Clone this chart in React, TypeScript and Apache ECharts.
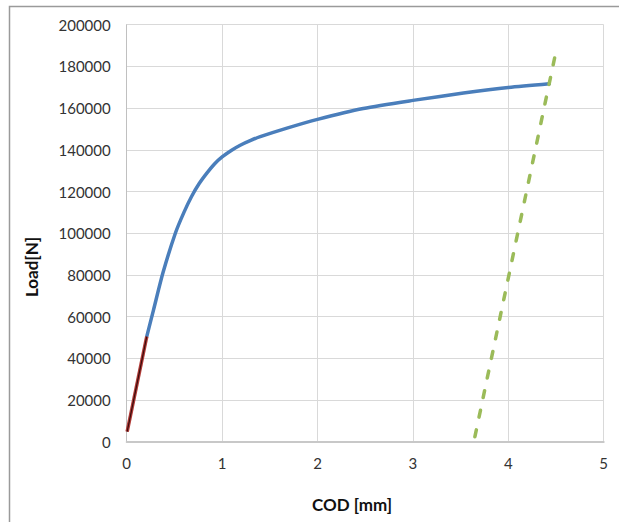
import React, { useEffect, useRef } from "react";
import * as echarts from "echarts";

const xTicks = [0, 1, 2, 3, 4, 5];
const yTicks = [0, 20000, 40000, 60000, 80000, 100000, 120000, 140000, 160000, 180000, 200000];

const blueCurve: [number, number][] = [
  [0.21, 50400], [0.28, 63000], [0.38, 81000], [0.51, 100000], [0.6, 110000], [0.68, 117600],
  [0.76, 123800], [0.84, 128800], [0.92, 133200], [1.0, 136600], [1.1, 139800], [1.19, 142200],
  [1.3, 144500], [1.4, 146300], [1.68, 150400], [2.0, 154600], [2.48, 159800], [3.0, 163700],
  [3.53, 167200], [4.0, 169900], [4.43, 171700],
];
const redLine: [number, number][] = [[0.005, 4800], [0.21, 50400]];
const greenLine: [number, number][] = [[3.65, 2400], [4.5, 187200]];

const FONT = "Lato, 'Open Sans', sans-serif";

export default function App() {
  const ref = useRef<HTMLDivElement>(null);
  useEffect(() => {
    if (!ref.current) return;
    const chart = echarts.init(ref.current, undefined, { renderer: "svg" });
    chart.setOption({
      animation: false,
      backgroundColor: "#ffffff",
      grid: { left: 126.7, right: 15.3, top: 24.7, bottom: 80.3, containLabel: false },
      xAxis: {
        type: "value",
        min: xTicks[0],
        max: xTicks[xTicks.length - 1],
        interval: 1,
        axisLine: { show: true, lineStyle: { color: "#c8c8c8", width: 2 } },
        axisTick: { show: false },
        splitLine: { show: true, lineStyle: { color: "#d9d9d9", width: 1 } },
        axisLabel: { color: "#333", fontFamily: FONT, fontSize: 15, margin: 14, formatter: (v: number) => String(v) },
      },
      yAxis: {
        type: "value",
        min: yTicks[0],
        max: yTicks[yTicks.length - 1],
        interval: 20000,
        axisLine: { show: true, lineStyle: { color: "#c0c0c0", width: 1 } },
        axisTick: { show: false },
        splitLine: { show: true, lineStyle: { color: "#d9d9d9", width: 1 } },
        axisLabel: { color: "#333", fontFamily: FONT, fontSize: 15, margin: 16, formatter: (v: number) => String(v) },
      },
      graphic: [
        {
          type: "rect",
          shape: { x: 9.5, y: 6.5, width: 640, height: 560 },
          style: { fill: "none", stroke: "#9a9a9a", lineWidth: 1.5 },
          silent: true,
        },
        {
          type: "text",
          x: 31,
          y: 267,
          rotation: Math.PI / 2,
          style: {
            text: "Load[N]",
            fontFamily: FONT,
            fontWeight: "bold",
            fontSize: 17,
            fill: "#111",
            align: "center",
            verticalAlign: "middle",
          },
        },
        {
          type: "text",
          x: 352,
          y: 504,
          style: {
            text: "COD [mm]",
            fontFamily: FONT,
            fontWeight: "bold",
            fontSize: 17,
            fill: "#111",
            align: "center",
            verticalAlign: "middle",
          },
        },
      ],
      series: [
        {
          type: "line",
          data: blueCurve,
          smooth: 0.25,
          showSymbol: false,
          lineStyle: { color: "#4a7ebb", width: 3.5, cap: "round" },
          z: 3,
        },
        {
          type: "line",
          data: redLine,
          showSymbol: false,
          lineStyle: { color: "#b03a36", width: 3.5 },
          z: 4,
        },
        {
          type: "line",
          data: redLine,
          showSymbol: false,
          lineStyle: { color: "#3a0c0c", width: 1.2 },
          z: 5,
        },
        {
          type: "line",
          data: greenLine,
          showSymbol: false,
          lineStyle: { color: "#9bbb59", width: 3.5, type: [7, 13], cap: "round" },
          z: 6,
        },
      ],
    });
    return () => chart.dispose();
  }, []);
  return (
    <div
      ref={ref}
      style={{ position: "fixed", left: 0, top: 0, width: 619, height: 522 }}
    />
  );
}
